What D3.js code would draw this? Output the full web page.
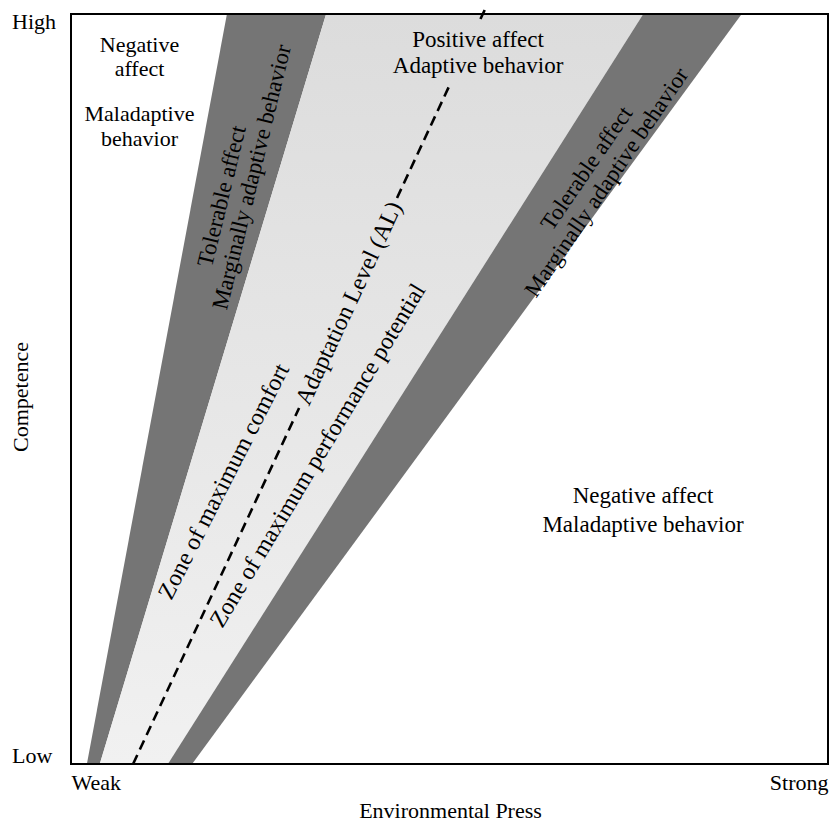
<!DOCTYPE html>
<html><head><meta charset="utf-8">
<script src="https://cdn.jsdelivr.net/npm/d3@7"></script>
<style>
html,body{margin:0;padding:0;background:#fff;}
svg{display:block;}
text{font-family:"Liberation Serif","Times New Roman",serif;fill:#000;}
</style>
</head><body>
<svg id="chart" width="831" height="824"></svg>
<script>
// ---------------- data ----------------
const pressLabels = ["Weak", "Strong"];            // Environmental Press (x) ends
const competenceLabels = ["Low", "High"];          // Competence (y) ends
const xTitle = "Environmental Press";
const yTitle = "Competence";
// boundary lines: press value where each line meets Low (0) and High (1) competence
const boundaryNames = ["leftOuter", "leftInner", "adaptationLevel", "rightInner", "rightOuter"];
const pressAtLow  = [0.021, 0.038, 0.082, 0.128, 0.160];
const pressAtHigh = [0.206, 0.337, 0.544, 0.756, 0.886];
// zones between boundaries
const zoneNames = ["tolerableLeft", "optimal", "tolerableRight"];
const zoneFrom = [0, 1, 3];
const zoneTo   = [1, 3, 4];
// text labels
const labelTopLeft = ["Negative", "affect", "Maladaptive", "behavior"];
const labelBottomRight = ["Negative affect", "Maladaptive behavior"];
const labelOptimal = ["Positive affect", "Adaptive behavior"];
const labelTolerable = ["Tolerable affect", "Marginally adaptive behavior"];
const labelComfort = "Zone of maximum comfort";
const labelPerformance = "Zone of maximum performance potential";
const labelAL = "Adaptation Level (AL)";

// ---------------- layout ----------------
const svg = d3.select("#chart");
const x = d3.scaleLinear().domain([0, 1]).range([71, 828]);
const y = d3.scaleLinear().domain([0, 1]).range([764, 14]);
const pressAt = (i, c) => pressAtLow[i] + (pressAtHigh[i] - pressAtLow[i]) * c;
const angleOf = (i) => Math.atan2(y(1) - y(0), x(pressAtHigh[i]) - x(pressAtLow[i])) * 180 / Math.PI;
const zoneStyle = { tolerableLeft: "#757575", optimal: "url(#lightGrad)", tolerableRight: "#757575" };

const defs = svg.append("defs");
const grad = defs.append("linearGradient").attr("id", "lightGrad")
  .attr("x1", 0).attr("y1", 0).attr("x2", 0).attr("y2", 1);
grad.append("stop").attr("offset", "0%").attr("stop-color", "#dcdcdc");
grad.append("stop").attr("offset", "100%").attr("stop-color", "#f1f1f1");

const clip = defs.append("clipPath").attr("id", "plotClip");
clip.append("rect").attr("x", x(0)).attr("y", y(1)).attr("width", x(1) - x(0)).attr("height", y(0) - y(1));

const area = d3.line().x(d => x(d[0])).y(d => y(d[1]));
svg.append("g").attr("clip-path", "url(#plotClip)")
  .selectAll("path.zone").data(zoneNames).join("path")
  .attr("class", "zone")
  .attr("d", (z, k) => area([
    [pressAt(zoneFrom[k], 0), 0], [pressAt(zoneFrom[k], 1), 1],
    [pressAt(zoneTo[k], 1), 1], [pressAt(zoneTo[k], 0), 0]
  ]) + "Z")
  .attr("fill", z => zoneStyle[z]);

// adaptation level dashed line (interrupted by its labels)
const alIndex = 2;
const alVisible = [[0, 0.4747], [0.7547, 0.908], [0.9933, 1.012]];
svg.append("g").selectAll("line.al").data(alVisible).join("line")
  .attr("x1", r => x(pressAt(alIndex, r[0]))).attr("y1", r => y(r[0]))
  .attr("x2", r => x(pressAt(alIndex, r[1]))).attr("y2", r => y(r[1]))
  .attr("stroke", "#000").attr("stroke-width", 2.6).attr("stroke-dasharray", "10,6");

// frame
svg.append("rect").attr("x", x(0)).attr("y", y(1))
  .attr("width", x(1) - x(0)).attr("height", y(0) - y(1))
  .attr("fill", "none").attr("stroke", "#000").attr("stroke-width", 2);

// axes
const serif = '"Liberation Serif","Times New Roman",serif';
const xAxis = svg.append("g").attr("transform", `translate(0,${y(0)})`)
  .call(d3.axisBottom(x).tickValues([0, 1]).tickFormat((d, i) => pressLabels[i]).tickSize(0).tickPadding(10));
xAxis.select(".domain").remove();
xAxis.selectAll("text").attr("font-size", 22).style("font-family", serif).attr("fill", "#000")
  .attr("text-anchor", (d, i) => i === 0 ? "start" : "end");

const yAxis = svg.append("g").attr("transform", `translate(${x(0)},0)`)
  .call(d3.axisLeft(y).tickValues([0, 1]).tickFormat((d, i) => competenceLabels[i]).tickSize(0));
yAxis.select(".domain").remove();
yAxis.selectAll("text").attr("font-size", 22).style("font-family", serif).attr("fill", "#000")
  .attr("text-anchor", "start").attr("x", -59)
  .attr("dy", (d, i) => i === 0 ? "-0.05em" : "0.68em");

svg.append("text").attr("x", (x(0) + x(1)) / 2 + 1).attr("y", 818)
  .attr("text-anchor", "middle").attr("font-size", 22).text(xTitle);
svg.append("text").attr("transform", `translate(28,${(y(0) + y(1)) / 2 + 8}) rotate(-90)`)
  .attr("text-anchor", "middle").attr("font-size", 22).text(yTitle);

// horizontal labels
function hLabel(lines, px, pys, size) {
  const t = svg.append("text").attr("text-anchor", "middle").attr("font-size", size);
  lines.forEach((s, i) => t.append("tspan").attr("x", x(px)).attr("y", y(pys[i])).text(s));
}
hLabel(labelTopLeft, 0.0905, [0.9493, 0.9173, 0.8573, 0.824], 22);
hLabel(labelBottomRight, 0.7556, [0.348, 0.3093], 23);
hLabel(labelOptimal, 0.5377, [0.956, 0.9213], 23);

// rotated labels
function rLabel(s, px, py, angle, size) {
  svg.append("text").attr("transform", `translate(${x(px)},${y(py)}) rotate(${angle})`)
    .attr("text-anchor", "middle").attr("dy", "0.35em").attr("font-size", size).text(s);
}
const leftAngle = (angleOf(0) + angleOf(1)) / 2;
const rightAngle = (angleOf(3) + angleOf(4)) / 2;
rLabel(labelTolerable[0], 0.1982, 0.7573, leftAngle, 23);
rLabel(labelTolerable[1], 0.2378, 0.7827, leftAngle, 23);
rLabel(labelTolerable[0], 0.6803, 0.7947, rightAngle, 23);
rLabel(labelTolerable[1], 0.7067, 0.776, rightAngle, 23);
rLabel(labelComfort, 0.2008, 0.3773, -63, 24);
rLabel(labelPerformance, 0.325, 0.412, -59, 24);
rLabel(labelAL, pressAt(alIndex, 0.6147), 0.6147, angleOf(alIndex), 24);
</script>
</body></html>
